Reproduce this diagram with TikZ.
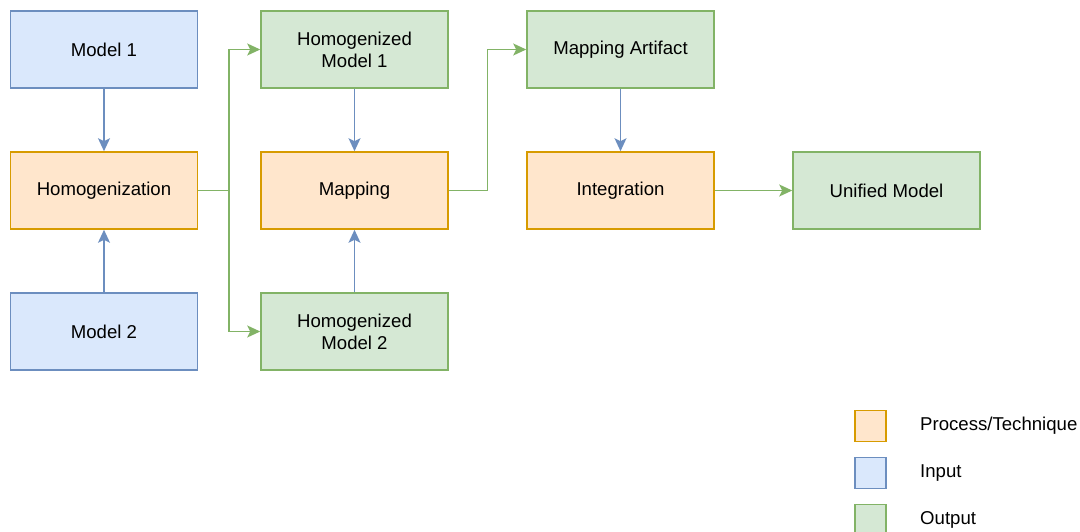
\documentclass[tikz,border=0pt]{standalone}
\usepackage{fontspec}
\setmainfont{Liberation Sans}
\usetikzlibrary{arrows.meta}
\definecolor{inFill}{HTML}{DAE8FC}
\definecolor{inLine}{HTML}{6C8EBF}
\definecolor{prFill}{HTML}{FFE6CC}
\definecolor{prLine}{HTML}{D79B00}
\definecolor{outFill}{HTML}{D5E8D4}
\definecolor{outLine}{HTML}{82B366}
\tikzset{
  box/.style={draw, line width=1.6pt, minimum width=187pt, minimum height=77pt, inner sep=0pt, align=center, font=\fontsize{18.6}{22}\selectfont},
  inbox/.style={box, fill=inFill, draw=inLine},
  prbox/.style={box, fill=prFill, draw=prLine},
  outbox/.style={box, fill=outFill, draw=outLine},
  legbox/.style={draw, line width=1.6pt, minimum width=31pt, minimum height=31pt, inner sep=0pt},
  legtext/.style={anchor=west, inner sep=0pt, font=\fontsize{18.6}{22}\selectfont},
  tip/.style={-{Stealth[length=13pt,width=12pt,inset=3pt]}},
  blueArrow/.style={tip, draw=inLine, line width=1.6pt},
  greenArrow/.style={tip, draw=outLine, line width=1.6pt},
}
\begin{document}
\begin{tikzpicture}[x=1pt,y=-1pt]
\useasboundingbox[fill=white] (0,0) rectangle (1080,532);
\node[inbox] (m1) at (104,49.5) {Model 1};
\node[prbox] (hom) at (104,190.5) {Homogenization};
\node[inbox] (m2) at (104,331.5) {Model 2};
\node[outbox] (hm1) at (354.5,49.5) {Homogenized\\Model 1};
\node[prbox] (map) at (354.5,190.5) {Mapping};
\node[outbox] (hm2) at (354.5,331.5) {Homogenized\\Model 2};
\node[outbox] (art) at (620.5,49.5) {Mapping Artifact};
\node[prbox] (int) at (620.5,190.5) {Integration};
\node[outbox] (uni) at (886.5,190.5) {Unified Model};

\coordinate (s1) at (229,190.5);
\coordinate (s2) at (487.5,190.5);

\draw[blueArrow] (m1) -- (hom);
\draw[blueArrow] (m2) -- (hom);
\draw[blueArrow] (hm1) -- (map);
\draw[blueArrow] (hm2) -- (map);
\draw[blueArrow] (art) -- (int);
\draw[greenArrow] (int) -- (uni);
\draw[line width=1.6pt, draw=outLine] (hom.east) -- (s1);
\draw[greenArrow] (s1) |- (hm1.west);
\draw[greenArrow] (s1) |- (hm2.west);
\draw[greenArrow] (map.east) -- (s2) |- (art.west);

\node[legbox, fill=prFill, draw=prLine] (lp) at (870.5,426) {};
\node[legbox, fill=inFill, draw=inLine] (li) at (870.5,473) {};
\node[legbox, fill=outFill, draw=outLine] (lo) at (870.5,520) {};
\node[legtext] (tp) at (920,426) {Process/Technique};
\node[legtext] (ti) at (920,473) {Input};
\node[legtext] (to) at (920,520) {Output};
\end{tikzpicture}
\end{document}
